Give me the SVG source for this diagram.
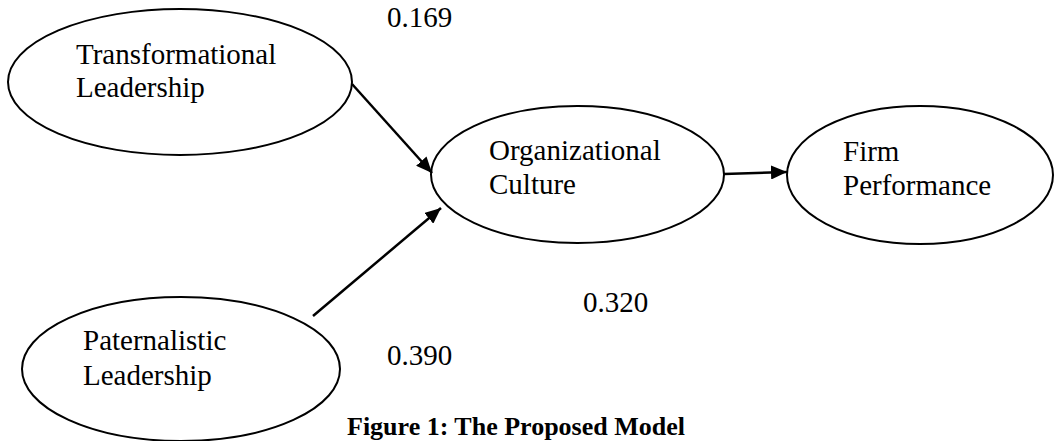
<svg xmlns="http://www.w3.org/2000/svg" width="1055" height="441" viewBox="0 0 1055 441">
<defs>
<style>
.node ellipse{fill:#fff;stroke:#000;stroke-width:2}
text{font-family:"Liberation Serif","Times New Roman",serif;font-size:29px;fill:#000}
.cap{font-weight:bold;font-size:26px}
.edge{stroke:#000;stroke-width:2.5;fill:none;marker-end:url(#ah)}
</style>
<marker id="ah" markerWidth="16" markerHeight="14" refX="16" refY="7" orient="auto" markerUnits="userSpaceOnUse">
<path d="M0,0 L16,7 L0,14 Z" fill="#000"/>
</marker>
</defs>
<rect width="1055" height="441" fill="#fff"/>
<g id="n-transformational" class="node">
<ellipse cx="180" cy="82" rx="172" ry="73"/>
<text x="76" y="64">Transformational</text>
<text x="76" y="97">Leadership</text>
</g>
<g id="n-organizational" class="node">
<ellipse cx="577.5" cy="174.5" rx="146.5" ry="68.5"/>
<text x="489" y="160">Organizational</text>
<text x="489" y="194">Culture</text>
</g>
<g id="n-firm" class="node">
<ellipse cx="920" cy="175" rx="133" ry="69"/>
<text x="843" y="161">Firm</text>
<text x="843" y="195">Performance</text>
</g>
<g id="n-paternalistic" class="node">
<ellipse cx="181" cy="369" rx="159" ry="72"/>
<text x="83" y="350">Paternalistic</text>
<text x="83" y="385">Leadership</text>
</g>
<g id="connectors">
<line class="edge" x1="352" y1="84" x2="432" y2="173"/>
<line class="edge" x1="313" y1="316" x2="441" y2="208"/>
<line class="edge" x1="724" y1="174" x2="787" y2="172"/>
</g>
<g id="labels">
<text x="387" y="27">0.169</text>
<text x="387" y="365">0.390</text>
<text x="583" y="312">0.320</text>
<text class="cap" x="347" y="435">Figure 1: The Proposed Model</text>
</g>
</svg>
